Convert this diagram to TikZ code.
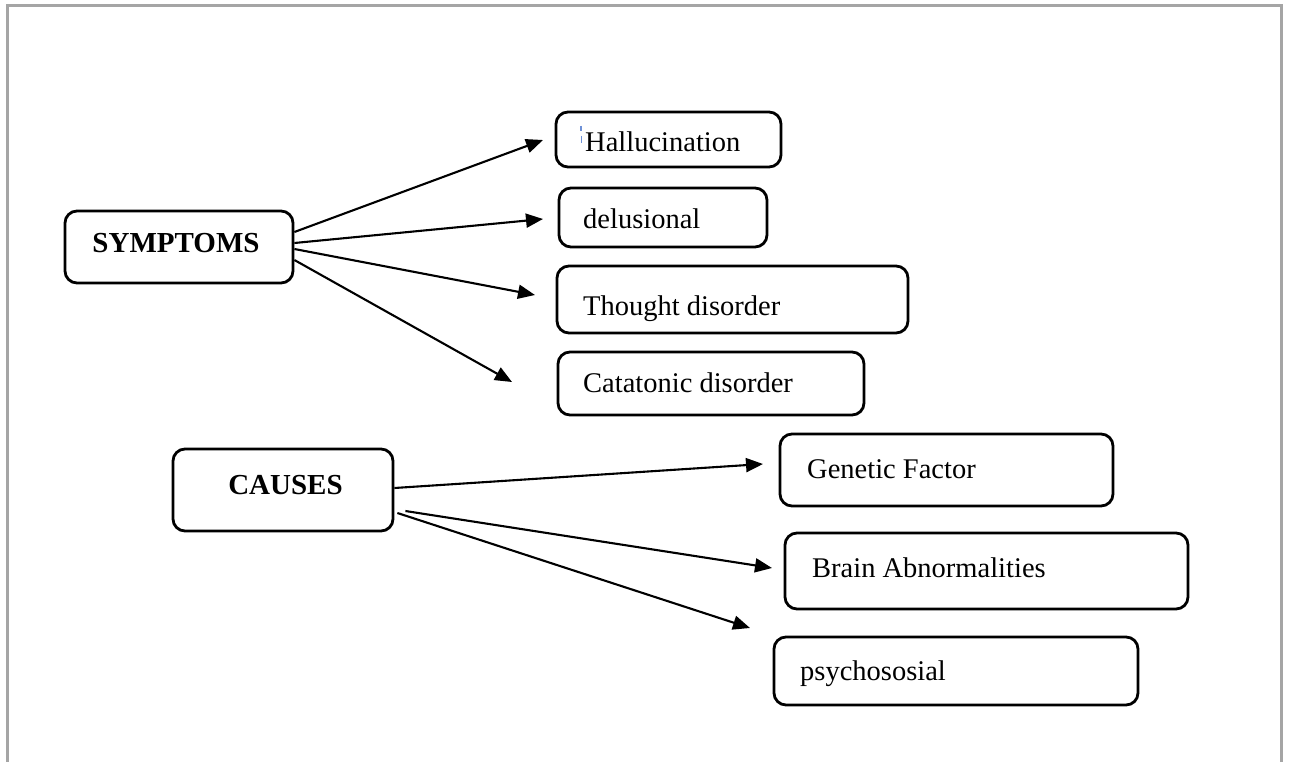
\documentclass[tikz,border=0pt]{standalone}
\usepackage{fontspec}
\setmainfont{Liberation Serif}
\usetikzlibrary{arrows.meta}
\definecolor{framegray}{RGB}{165,165,165}
\definecolor{markblue}{RGB}{110,145,215}
\tikzset{
  box/.style={draw=black, line width=2.8pt, rounded corners=12pt, inner sep=0pt},
  lbl/.style={inner sep=0pt, anchor=base west, font=\fontsize{28.5}{34}\selectfont},
  head/.style={inner sep=0pt, anchor=base, font=\fontsize{29}{35}\selectfont\bfseries},
  conn/.style={line width=2.1pt, -{Triangle[length=17pt,width=14pt]}},
  frame/.style={draw=framegray, line width=3pt}
}
\begin{document}
\begin{tikzpicture}[x=1pt, y=-1pt]
\useasboundingbox (0,0) rectangle (1289,762);
\draw[frame] (7.5,762) -- (7.5,5.5) -- (1281.5,5.5) -- (1281.5,762);

% source boxes
\node[box, minimum width=228pt, minimum height=72pt] (sym) at (179,247) {};
\node[head] (symt) at (176,252) {SYMPTOMS};
\node[box, minimum width=220pt, minimum height=82pt] (cau) at (283,490) {};
\node[head] (caut) at (285.5,494) {CAUSES};

% symptom boxes
\node[box, minimum width=225pt, minimum height=55pt] (b1) at (668.5,139.5) {};
\node[lbl] (t1) at (585,152) {Hallucination};
\node[box, minimum width=208pt, minimum height=59pt] (b2) at (663,217.5) {};
\node[lbl] (t2) at (583,228) {delusional};
\node[box, minimum width=351pt, minimum height=67pt] (b3) at (732.5,299.5) {};
\node[lbl] (t3) at (583,315) {Thought disorder};
\node[box, minimum width=306pt, minimum height=63pt] (b4) at (711,383.5) {};
\node[lbl] (t4) at (583,392) {Catatonic disorder};

% cause boxes
\node[box, minimum width=333pt, minimum height=72pt] (c1) at (946.5,470) {};
\node[lbl] (u1) at (807,478) {Genetic Factor};
\node[box, minimum width=403pt, minimum height=76pt] (c2) at (986.5,571) {};
\node[lbl] (u2) at (812,577) {Brain Abnormalities};
\node[box, minimum width=364pt, minimum height=68pt] (c3) at (956,671) {};
\node[lbl] (u3) at (800,680) {psychososial};

% stray mark
\draw[markblue, line width=1.2pt] (581,126) -- (581,131) (581.5,136) -- (581.5,143);

% arrow tips
\coordinate (p1) at (543,140);
\coordinate (p2) at (543,219);
\coordinate (p3) at (535,295);
\coordinate (p4) at (512,382);
\coordinate (q1) at (763,464);
\coordinate (q2) at (772,568);
\coordinate (q3) at (750,628);

\draw[conn] ([yshift=15pt]sym.east) -- (p1);
\draw[conn] ([yshift=4pt]sym.east) -- (p2);
\draw[conn] ([yshift=-2pt]sym.east) -- (p3);
\draw[conn] ([yshift=-13pt]sym.east) -- (p4);

\draw[conn] ([yshift=2pt]cau.east) -- (q1);
\draw[conn] ([xshift=11pt,yshift=-21pt]cau.east) -- (q2);
\draw[conn] ([xshift=3pt,yshift=-23pt]cau.east) -- (q3);
\end{tikzpicture}
\end{document}
